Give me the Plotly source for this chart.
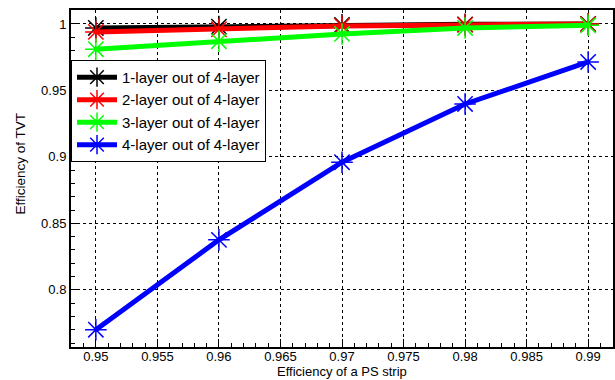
import plotly.graph_objects as go

x_eff = [0.95, 0.96, 0.97, 0.98, 0.99]
series_names = ["1-layer out of 4-layer", "2-layer out of 4-layer",
                "3-layer out of 4-layer", "4-layer out of 4-layer"]
eff_1of4 = [0.997, 0.998, 0.9993, 0.9997, 1.0]
eff_2of4 = [0.994, 0.996, 0.9985, 0.9993, 0.9999]
eff_3of4 = [0.981, 0.987, 0.9925, 0.997, 0.999]
eff_4of4 = [0.770, 0.8376, 0.896, 0.9398, 0.9714]
colors = ["#000000", "#ff0000", "#00ff00", "#0000ff"]

x_tickvals = [0.95, 0.955, 0.96, 0.965, 0.97, 0.975, 0.98, 0.985, 0.99]
x_ticktext = ["0.95", "0.955", "0.96", "0.965", "0.97", "0.975", "0.98", "0.985", "0.99"]
y_tickvals = [0.8, 0.85, 0.9, 0.95, 1.0]
y_ticktext = ["0.8", "0.85", "0.9", "0.95", "1"]

fig = go.Figure()
for name, ys, c in zip(series_names, [eff_1of4, eff_2of4, eff_3of4, eff_4of4], colors):
    fig.add_trace(go.Scatter(
        x=x_eff, y=ys, name=name, mode="lines+markers",
        line=dict(color=c, width=5),
        marker=dict(symbol="asterisk-open", size=18, color=c, line=dict(color=c, width=1.5)),
    ))

font_family = "Liberation Sans, Arial, sans-serif"
fig.update_layout(
    width=615, height=380,
    margin=dict(l=71, r=0, t=10, b=33),
    paper_bgcolor="white", plot_bgcolor="white",
    font=dict(family=font_family, size=13, color="black"),
    showlegend=True,
    legend=dict(x=0.0, y=0.852, xanchor="left", yanchor="top",
                bgcolor="white", bordercolor="black", borderwidth=1,
                font=dict(size=15), itemwidth=40, tracegroupgap=0),
    xaxis=dict(range=[0.94798, 0.99202], tickmode="array", tickvals=x_tickvals, ticktext=x_ticktext,
               showgrid=True, gridcolor="black", griddash="dot", gridwidth=1,
               ticks="inside", ticklen=8, tickcolor="black", tickwidth=1,
               showline=True, linecolor="black", linewidth=2, mirror=True,
               zeroline=False, ticklabelstandoff=-4,
               minor=dict(tickmode="linear", tick0=0.95, dtick=0.001, ticks="inside", ticklen=4,
                          tickcolor="black", showgrid=False),
               tickfont=dict(size=13)),
    yaxis=dict(range=[0.757, 1.0105], tickmode="array", tickvals=y_tickvals, ticktext=y_ticktext,
               showgrid=True, gridcolor="black", griddash="dot", gridwidth=1,
               ticks="inside", ticklen=8, tickcolor="black", tickwidth=1,
               showline=True, linecolor="black", linewidth=2, mirror=True,
               zeroline=False,
               minor=dict(tickmode="linear", tick0=0.8, dtick=0.01, ticks="inside", ticklen=4,
                          tickcolor="black", showgrid=False),
               tickfont=dict(size=13)),
    annotations=[
        dict(text="Efficiency of TVT", x=-51/544, y=0.545, xref="paper", yref="paper",
             showarrow=False, textangle=-90, font=dict(size=13.5),
             xanchor="center", yanchor="middle"),
        dict(text="Efficiency of a PS strip", x=0.5, y=-33/337, xref="paper", yref="paper",
             showarrow=False, font=dict(size=13), borderpad=0,
             xanchor="center", yanchor="bottom"),
    ],
)
fig.write_html("out.html")
